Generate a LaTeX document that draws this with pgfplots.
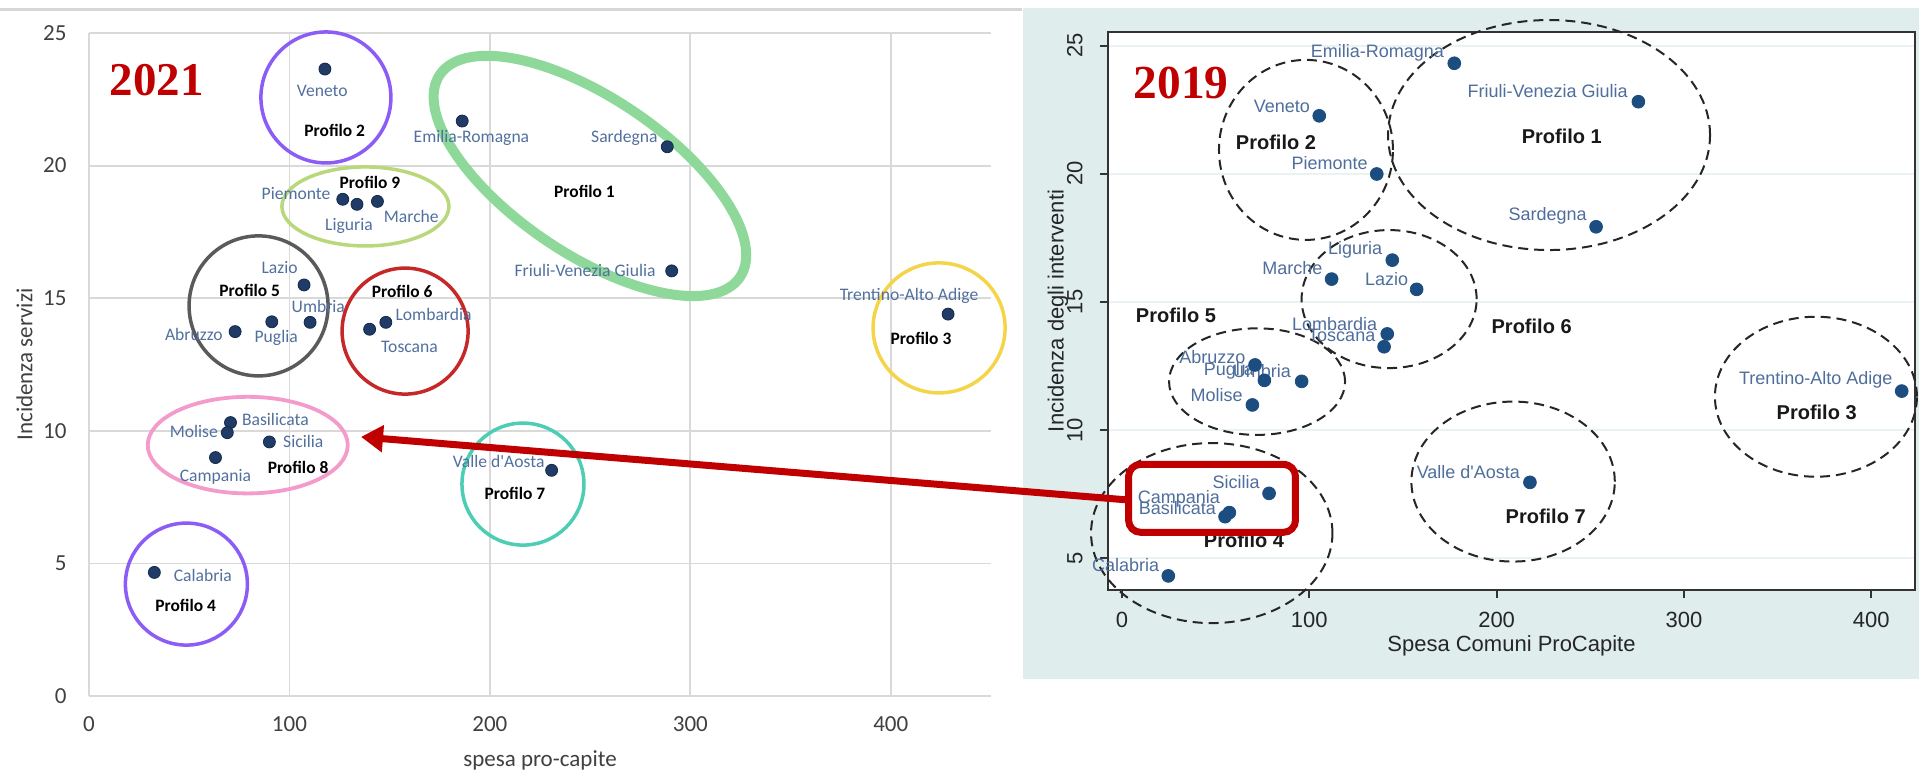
\documentclass[border=0pt]{standalone}
\usepackage{pgfplots}
\pgfplotsset{compat=1.18}
\usepackage{fontspec}
\setmainfont{Carlito}
\newfontfamily\calfont{Carlito}
\newfontfamily\arifont{Liberation Sans}
\newfontfamily\tnrfont{Liberation Serif}
\usetikzlibrary{shapes.geometric,arrows.meta}
\definecolor{gridL}{HTML}{D9D9D9}
\definecolor{tickL}{HTML}{404040}
\definecolor{txtL}{HTML}{51709E}
\definecolor{ptL}{HTML}{1F3B66}
\definecolor{ptLd}{HTML}{142A4C}
\definecolor{cPurple}{HTML}{8B5CF6}
\definecolor{cLime}{HTML}{B9D77B}
\definecolor{cGray}{HTML}{5A5A5A}
\definecolor{cRed}{HTML}{C62828}
\definecolor{cGreen}{HTML}{8ED99A}
\definecolor{cYellow}{HTML}{F4D54A}
\definecolor{cPink}{HTML}{F39BCB}
\definecolor{cTeal}{HTML}{4CCDB4}
\definecolor{bgT}{HTML}{DFEDED}
\definecolor{gridR}{HTML}{EAF2F2}
\definecolor{frameR}{HTML}{333333}
\definecolor{txtR}{HTML}{4F6E9C}
\definecolor{ptR}{HTML}{1B4D80}
\definecolor{redA}{HTML}{C00000}
\definecolor{topline}{HTML}{D6D6D6}
\tikzset{
  ell/.style={ellipse, inner sep=0pt, outer sep=0pt},
  lblL/.style={font=\calfont\fontsize{8.8}{10}\selectfont, text=txtL, inner sep=0pt},
  proL/.style={font=\calfont\bfseries\fontsize{8.7}{10}\selectfont, text=black, inner sep=0pt},
  lblR/.style={font=\arifont\fontsize{9}{10}\selectfont, text=txtR, inner sep=0pt},
  proR/.style={font=\arifont\bfseries\fontsize{10}{12}\selectfont, text=black!90, inner sep=0pt},
  dashR/.style={ell, draw=black!85, dash pattern=on 5pt off 3pt, line width=1pt},
}
\pgfplotstableread{
x y
117.7 23.64
186.2 21.68
288.5 20.71
126.6 18.73
133.7 18.54
143.9 18.65
290.7 16.03
107.3 15.50
428.6 14.40
148.1 14.09
110.3 14.09
91.2 14.11
140.0 13.83
72.9 13.74
70.6 10.31
69.0 9.93
90.0 9.58
63.1 8.99
230.8 8.51
32.6 4.66
}\dataL
\pgfplotstableread{
x y
177.4 24.31
275.7 22.81
105.3 22.26
136.0 19.99
253.1 17.93
144.3 16.63
111.9 15.89
157.3 15.49
141.6 13.75
139.9 13.25
71.0 12.54
76.0 11.94
95.9 11.90
416.3 11.52
69.6 10.98
217.8 7.96
78.5 7.53
57.3 6.78
55.0 6.62
24.7 4.31
}\dataR
\begin{document}
\begin{tikzpicture}[x=1pt,y=1pt]
\useasboundingbox (0,0) rectangle (959.5,386);
\fill[bgT] (511.5,46.5) rectangle (959.5,382);
\draw[topline, line width=1.5pt] (0,381) -- (511,381);
% ---------------- LEFT: 2021 ----------------
\begin{axis}[
  at={(44.5pt,38pt)}, anchor=south west,
  scale only axis, width=451pt, height=331.5pt,
  xmin=0, xmax=450, ymin=0, ymax=25,
  xtick={0,100,200,300,400}, ytick={0,5,10,15,20,25},
  axis line style={draw=none},
  major tick length=0pt,
  grid=major, major grid style={gridL, line width=0.9pt},
  /pgf/number format/assume math mode=true,
  tick label style={font=\calfont\fontsize{11.5}{13}\selectfont, text=tickL},
  xticklabel style={yshift=-7pt},
  yticklabel style={xshift=-7.7pt},
  xlabel={spesa pro-capite}, ylabel={Incidenza servizi},
  label style={font=\calfont\fontsize{11.5}{13}\selectfont, text=tickL},
  xlabel style={at={(axis description cs:0.5,-0.0965)}, anchor=center},
  ylabel style={at={(axis description cs:-0.0715,0.5)}, anchor=center},
  clip=false,
]
\node[ell, draw=cGreen, line width=5pt, minimum width=181pt, minimum height=78pt, rotate=-34] at (axis cs:249.9,19.61) {};
\node[ell, draw=cPurple, line width=1.75pt, minimum width=65pt, minimum height=65.5pt] at (axis cs:118.2,22.57) {};
\node[ell, draw=cLime, line width=1.75pt, minimum width=83.5pt, minimum height=39.5pt] at (axis cs:137.9,18.46) {};
\node[ell, draw=cGray, line width=1.75pt, minimum width=69.5pt, minimum height=70pt] at (axis cs:84.6,14.71) {};
\node[ell, draw=cRed, line width=1.75pt, minimum width=63pt, minimum height=63pt] at (axis cs:157.7,13.76) {};
\node[ell, draw=cYellow, line width=1.75pt, minimum width=66pt, minimum height=65pt] at (axis cs:424.1,13.88) {};
\node[ell, draw=cPink, line width=1.9pt, minimum width=100pt, minimum height=48.3pt] at (axis cs:79.2,9.46) {};
\node[ell, draw=cTeal, line width=1.75pt, minimum width=61pt, minimum height=61pt] at (axis cs:216.5,7.99) {};
\node[ell, draw=cPurple, line width=1.75pt, minimum width=61pt, minimum height=61pt] at (axis cs:48.6,4.22) {};
\addplot[only marks, mark=*, mark size=3pt, mark options={fill=ptL, draw=ptLd, line width=0.4pt}] table[x=x,y=y] {\dataL};
\node[lblL] at (axis cs:116.4,22.81) {Veneto};
\node[lblL] at (axis cs:190.8,21.03) {Emilia-Romagna};
\node[lblL] at (axis cs:267.1,21.03) {Sardegna};
\node[lblL] at (axis cs:103.3,18.93) {Piemonte};
\node[lblL] at (axis cs:129.7,17.72) {Liguria};
\node[lblL] at (axis cs:160.8,18.07) {Marche};
\node[lblL] at (axis cs:95.1,16.15) {Lazio};
\node[lblL] at (axis cs:114.4,14.68) {Umbria};
\node[lblL] at (axis cs:52.3,13.65) {Abruzzo};
\node[lblL] at (axis cs:93.4,13.49) {Puglia};
\node[lblL] at (axis cs:171.9,14.37) {Lombardia};
\node[lblL] at (axis cs:159.9,13.15) {Toscana};
\node[lblL] at (axis cs:247.5,16.03) {Friuli-Venezia Giulia};
\node[lblL] at (axis cs:409.1,15.09) {Trentino-Alto Adige};
\node[lblL] at (axis cs:93.0,10.43) {Basilicata};
\node[lblL] at (axis cs:52.3,9.97) {Molise};
\node[lblL] at (axis cs:106.9,9.59) {Sicilia};
\node[lblL] at (axis cs:63.1,8.27) {Campania};
\node[lblL] at (axis cs:56.8,4.56) {Calabria};
\node[lblL] at (axis cs:204.4,8.85) {Valle d'Aosta};
\node[proL] at (axis cs:122.6,21.32) {Profilo 2};
\node[proL] at (axis cs:140.2,19.36) {Profilo 9};
\node[proL] at (axis cs:247.2,19.02) {Profilo 1};
\node[proL] at (axis cs:80.2,15.31) {Profilo 5};
\node[proL] at (axis cs:156.2,15.27) {Profilo 6};
\node[proL] at (axis cs:415.1,13.49) {Profilo 3};
\node[proL] at (axis cs:104.3,8.62) {Profilo 8};
\node[proL] at (axis cs:212.5,7.64) {Profilo 7};
\node[proL] at (axis cs:48.2,3.43) {Profilo 4};
\node[font=\tnrfont\bfseries\fontsize{23.5}{26}\selectfont, text=redA, inner sep=0pt] at (axis cs:33.9,23.23) {2021};
\coordinate (tip) at (axis cs:135.7,9.77);
\end{axis}
% ---------------- RIGHT: 2019 ----------------
\begin{axis}[
  at={(554pt,91pt)}, anchor=south west,
  scale only axis, width=403.5pt, height=279pt,
  xmin=-7.5, xmax=423.4, ymin=3.76, ymax=25.53,
  xtick={0,100,200,300,400}, ytick={5,10,15,20,25},
  axis background/.style={fill=white},
  axis line style={draw=frameR, line width=1pt},
  tick pos=left, tick align=outside, major tick length=4pt,
  tick style={draw=frameR, line width=1pt},
  ymajorgrids, major grid style={gridR, line width=1pt},
  /pgf/number format/assume math mode=true,
  tick label style={font=\arifont\fontsize{11}{13}\selectfont, text=black!85},
  yticklabel style={rotate=90, anchor=south, inner sep=0pt, inner ysep=8.5pt},
  xticklabel style={anchor=north, inner sep=0pt, inner ysep=7pt},
  xlabel={Spesa Comuni ProCapite}, ylabel={Incidenza degli interventi},
  label style={font=\arifont\fontsize{11}{13}\selectfont, text=black!85},
  xlabel style={at={(axis description cs:0.5,-0.100)}, anchor=center},
  ylabel style={at={(axis description cs:-0.062,0.5)}, anchor=center},
  clip=false,
]
\node[dashR, minimum width=87pt, minimum height=90pt] at (axis cs:98.2,20.93) {};
\node[dashR, minimum width=161pt, minimum height=115pt] at (axis cs:228.0,21.51) {};
\node[dashR, minimum width=87.5pt, minimum height=69pt] at (axis cs:142.6,15.11) {};
\node[dashR, minimum width=88pt, minimum height=53.3pt] at (axis cs:72.1,11.89) {};
\node[dashR, minimum width=120.7pt, minimum height=90pt] at (axis cs:47.9,5.98) {};
\node[dashR, minimum width=101.7pt, minimum height=80pt] at (axis cs:208.8,7.99) {};
\node[dashR, minimum width=101pt, minimum height=80pt] at (axis cs:370.5,11.30) {};
\addplot[only marks, mark=*, mark size=3.2pt, mark options={fill=ptR, draw=ptR}] table[x=x,y=y] {\dataR};
\node[lblR] at (axis cs:136.4,24.72) {Emilia-Romagna};
\node[lblR] at (axis cs:85.3,22.64) {Veneto};
\node[lblR] at (axis cs:110.8,20.41) {Piemonte};
\node[lblR] at (axis cs:124.4,17.02) {Liguria};
\node[lblR] at (axis cs:90.9,16.31) {Marche};
\node[lblR] at (axis cs:141.3,15.88) {Lazio};
\node[lblR] at (axis cs:113.5,14.14) {Lombardia};
\node[lblR] at (axis cs:117.3,13.71) {Toscana};
\node[lblR] at (axis cs:48.2,12.84) {Abruzzo};
\node[lblR] at (axis cs:74.6,12.32) {Umbria};
\node[lblR] at (axis cs:57.0,12.32) {Puglia};
\node[lblR] at (axis cs:50.5,11.37) {Molise};
\node[lblR] at (axis cs:60.9,7.99) {Sicilia};
\node[lblR] at (axis cs:30.3,7.30) {Campania};
\node[lblR] at (axis cs:29.6,6.95) {Basilicata};
\node[lblR] at (axis cs:1.9,4.74) {Calabria};
\node[lblR] at (axis cs:184.9,8.38) {Valle d'Aosta};
\node[lblR] at (axis cs:227.2,23.24) {Friuli-Venezia Giulia};
\node[lblR] at (axis cs:227.2,18.35) {Sardegna};
\node[lblR] at (axis cs:370.4,11.95) {Trentino-Alto Adige};
\node[proR] at (axis cs:234.8,21.44) {Profilo 1};
\node[proR] at (axis cs:82.2,21.21) {Profilo 2};
\node[proR] at (axis cs:28.8,14.49) {Profilo 5};
\node[proR] at (axis cs:218.7,14.06) {Profilo 6};
\node[proR] at (axis cs:370.9,10.69) {Profilo 3};
\node[proR] at (axis cs:226.2,6.62) {Profilo 7};
\node[proR] at (axis cs:65.1,5.71) {Profilo 4};
\node[font=\tnrfont\bfseries\fontsize{23.7}{26}\selectfont, text=redA, inner sep=0pt] at (axis cs:31.5,23.54) {2019};
\draw[redA, line width=3.5pt, rounded corners=6pt] (axis cs:3.5,8.66) rectangle (axis cs:92.6,6.01);
\coordinate (boxL) at (axis cs:3.5,7.27);
\end{axis}
\draw[redA, line width=3.5pt, -{Triangle[length=11pt,width=13pt]}] (boxL) -- (tip);
\end{tikzpicture}
\end{document}
